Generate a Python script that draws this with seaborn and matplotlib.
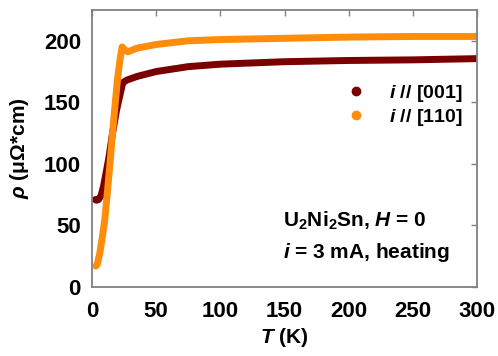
import matplotlib
matplotlib.use("Agg")
import matplotlib.pyplot as plt
import seaborn as sns
import pandas as pd
from matplotlib.lines import Line2D

# Data
T_001 = [2.5, 3.5, 5, 7, 9, 11, 13, 16, 19, 22, 24, 27, 35, 50, 75, 100, 125, 150, 175, 200, 250, 300]
rho_001 = [71, 70.5, 71, 74, 82, 93, 104, 125, 143, 157, 166, 168, 171, 175, 179, 181, 182, 183, 183.5, 184, 184.5, 185.5]

T_110 = [3, 4, 6, 8, 10, 12, 14, 16, 18, 20, 22, 23.5, 25, 28, 35, 50, 75, 100, 150, 200, 250, 300]
rho_110 = [17, 18, 27, 40, 55, 77, 100, 125, 148, 170, 186, 195, 193, 191, 194, 197, 200, 201, 202, 203, 203.5, 203.5]

labels = [r"$\mathit{i}$ // [001]", r"$\mathit{i}$ // [110]"]
colors = ["#7a0000", "#ff8c0a"]

sns.set_theme(style="white")
plt.rcParams["font.family"] = ["Liberation Sans", "DejaVu Sans"]
plt.rcParams["font.weight"] = "bold"
plt.rcParams["text.color"] = "black"
plt.rcParams["axes.labelcolor"] = "black"
plt.rcParams["xtick.color"] = "black"
plt.rcParams["ytick.color"] = "black"
plt.rcParams["mathtext.fontset"] = "custom"
plt.rcParams["mathtext.rm"] = "Liberation Sans:bold"
plt.rcParams["mathtext.it"] = "Liberation Sans:italic:bold"
plt.rcParams["mathtext.bf"] = "Liberation Sans:bold"

df = pd.concat([
    pd.DataFrame({"T": T_001, "rho": rho_001, "s": labels[0]}),
    pd.DataFrame({"T": T_110, "rho": rho_110, "s": labels[1]}),
])

fig = plt.figure(figsize=(4.98, 3.56), dpi=100)
ax = fig.add_axes([92/498, 1 - 287/356, 385/498, 277/356])

sns.lineplot(data=df, x="T", y="rho", hue="s", palette=colors, ax=ax,
             linewidth=5, legend=False, sort=False, solid_capstyle="round",
             solid_joinstyle="round")

ax.set_xlim(0, 300)
ax.set_ylim(0, 225)
ax.set_xticks(range(0, 301, 50))
ax.set_yticks(range(0, 201, 50))
ax.tick_params(direction="in", length=4, width=1, color="#808080", labelcolor="black",
               top=True, right=True, labelsize=16)
ax.tick_params(axis="x", pad=10)
ax.tick_params(axis="y", pad=8)
for lab in ax.get_xticklabels() + ax.get_yticklabels():
    lab.set_fontweight("bold")
for sp in ax.spines.values():
    sp.set_color("#808080")
    sp.set_linewidth(1.3)

ax.set_xlabel(r"$\mathit{T}$ (K)", fontsize=15, fontweight="bold", labelpad=3, color="black")
ax.set_ylabel(r"$\mathit{\rho}$ ($\mathrm{\mu\Omega}$*cm)", fontsize=15, fontweight="bold",
              labelpad=9, color="black")

handles = [Line2D([], [], marker="o", linestyle="none", color=c, markersize=6) for c in colors]
leg = ax.legend(handles, labels, loc="center right", bbox_to_anchor=(1.009, 0.655),
                frameon=False, fontsize=14, handletextpad=1.2, labelspacing=0.15,
                handlelength=1.0)
for t in leg.get_texts():
    t.set_fontweight("bold")
    t.set_color("black")

ax.text(0.497, 0.24, r"U$_2$Ni$_2$Sn, $\mathit{H}$ = 0", transform=ax.transAxes,
        fontsize=15, fontweight="bold", va="center", ha="left", color="black")
ax.text(0.497, 0.125, r"$\mathit{i}$ = 3 mA, heating", transform=ax.transAxes,
        fontsize=15, fontweight="bold", va="center", ha="left", color="black")

fig.savefig("out.png", dpi=100)
